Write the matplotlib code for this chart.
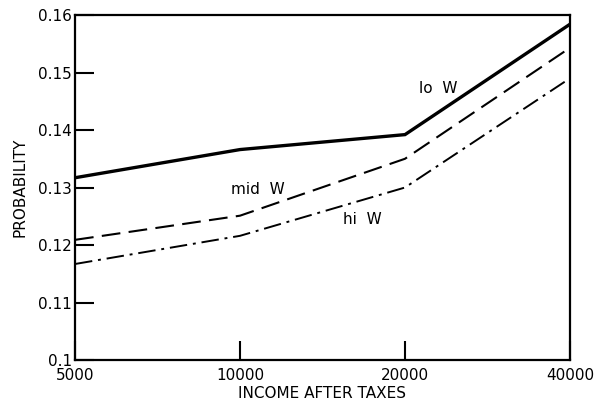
import numpy as np
import matplotlib
matplotlib.use("Agg")
import matplotlib.pyplot as plt
from matplotlib.ticker import FixedLocator, FixedFormatter, NullLocator

# income after taxes (log scale)
income = [5000, 10000, 20000, 40000]
lo_w = [0.1317, 0.1366, 0.1392, 0.1584]
mid_w = [0.1209, 0.1251, 0.1350, 0.1543]
hi_w = [0.1167, 0.1216, 0.1300, 0.1490]

yticks = [0.10, 0.11, 0.12, 0.13, 0.14, 0.15, 0.16]
ylabels = ["0.1", "0.11", "0.12", "0.13", "0.14", "0.15", "0.16"]
xlabels = ["5000", "10000", "20000", "40000"]

fig = plt.figure(figsize=(6, 4.11), dpi=100)
ax = fig.add_axes([0.125, 0.124, 0.825, 0.8395])

ax.plot(income, lo_w, color="black", lw=2.4, solid_joinstyle="miter")
ax.plot(income, mid_w, color="black", lw=1.5, dashes=(9, 4))
ax.plot(income, hi_w, color="black", lw=1.4, dashes=(9, 3, 1.5, 3))

ax.set_xscale("log")
ax.set_xlim(5000, 40000)
ax.set_ylim(0.10, 0.16)
ax.xaxis.set_major_locator(FixedLocator(income))
ax.xaxis.set_major_formatter(FixedFormatter(xlabels))
ax.xaxis.set_minor_locator(NullLocator())
ax.yaxis.set_major_locator(FixedLocator(yticks))
ax.yaxis.set_major_formatter(FixedFormatter(ylabels))

ax.tick_params(axis="both", direction="in", length=14, width=1.5, labelsize=11)
ax.tick_params(axis="y", pad=2)
ax.tick_params(axis="x", pad=6)
for s in ax.spines.values():
    s.set_linewidth(1.6)

ax.text(23000, 0.1472, "lo  W", fontsize=11, ha="center", va="center")
ax.text(10800, 0.1297, "mid  W", fontsize=11, ha="center", va="center")
ax.text(16700, 0.1244, "hi  W", fontsize=11, ha="center", va="center")

ax.set_xlabel("INCOME AFTER TAXES", fontsize=11, labelpad=2)
ax.set_ylabel("PROBABILITY", fontsize=11, labelpad=8)

fig.savefig("out.png", dpi=100)
